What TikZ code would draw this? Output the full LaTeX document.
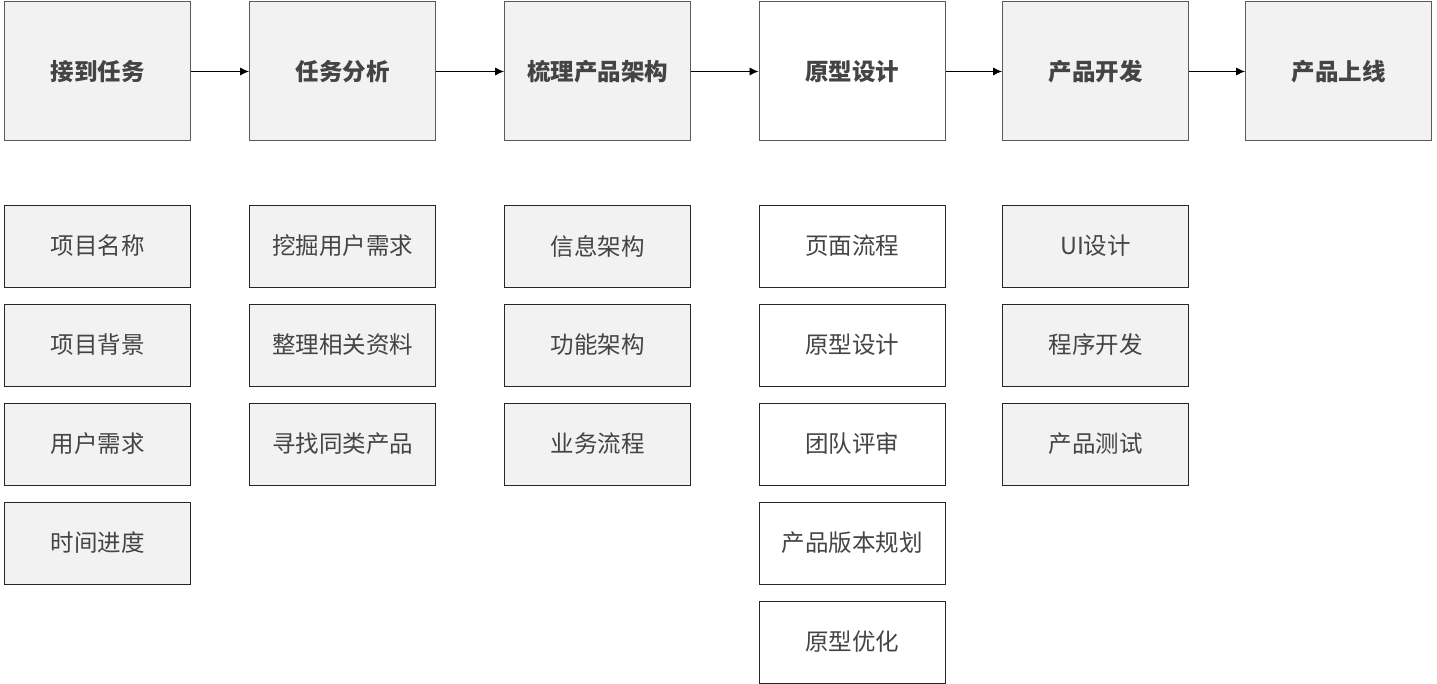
\documentclass[tikz,border=0pt]{standalone}
\usepackage{fontspec}
\setmainfont{Noto Sans CJK SC}
\usepackage{tikz}
\usetikzlibrary{arrows.meta, positioning}
\definecolor{boxgray}{HTML}{F2F2F2}
\definecolor{txtgray}{HTML}{444444}
\definecolor{edgegray}{HTML}{5A5A5A}
\tikzstyle{stage} = [draw=edgegray, line width=1pt, fill=boxgray, minimum width=186pt, minimum height=139pt, inner sep=0pt, font=\fontsize{23.5}{27}\selectfont\bfseries, text=txtgray]
\tikzstyle{task} = [draw=black!85, line width=0.8pt, fill=boxgray, minimum width=186pt, minimum height=82pt, inner sep=0pt, font=\fontsize{23.5}{27}\selectfont, text=txtgray]
\tikzstyle{arrow} = [draw, -{Latex[length=9pt, width=8pt]}, line width=0.8pt]

\begin{document}
\begin{tikzpicture}[x=1pt, y=-1pt]
		\useasboundingbox (0,0) rectangle (1437,684);
		% stages
		\node[stage] (s1) at (97.5,71.5) {接到任务};
		\node[stage] (s2) at (342.5,71.5) {任务分析};
		\node[stage] (s3) at (597.5,71.5) {梳理产品架构};
		\node[stage, fill=white] (s4) at (852,71.5) {原型设计};
		\node[stage] (s5) at (1095.5,71.5) {产品开发};
		\node[stage] (s6) at (1338.5,71.5) {产品上线};
		\foreach \a/\b in {s1/s2, s2/s3, s3/s4, s4/s5, s5/s6}
			\draw[arrow] (\a) -- (\b);
		% tasks
		\node[task] (t11) at (97.5,246) {项目名称};
		\node[task] (t12) at (97.5,345) {项目背景};
		\node[task] (t13) at (97.5,444) {用户需求};
		\node[task] (t14) at (97.5,543) {时间进度};
		\node[task] (t21) at (342.5,246) {挖掘用户需求};
		\node[task] (t22) at (342.5,345) {整理相关资料};
		\node[task] (t23) at (342.5,444) {寻找同类产品};
		\node[task] (t31) at (597.5,246) {信息架构};
		\node[task] (t32) at (597.5,345) {功能架构};
		\node[task] (t33) at (597.5,444) {业务流程};
		\node[task, fill=white] (t41) at (852,246) {页面流程};
		\node[task, fill=white] (t42) at (852,345) {原型设计};
		\node[task, fill=white] (t43) at (852,444) {团队评审};
		\node[task, fill=white] (t44) at (852,543) {产品版本规划};
		\node[task, fill=white] (t45) at (852,642) {原型优化};
		\node[task] (t51) at (1095.5,246) {UI设计};
		\node[task] (t52) at (1095.5,345) {程序开发};
		\node[task] (t53) at (1095.5,444) {产品测试};
	\end{tikzpicture}
\end{document}
